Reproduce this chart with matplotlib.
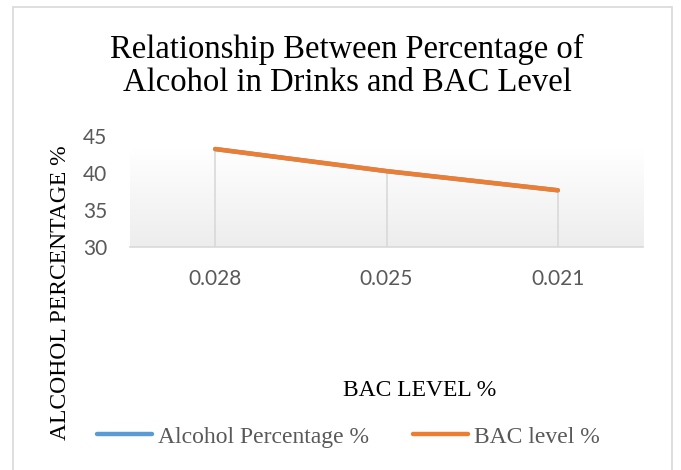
import matplotlib
matplotlib.use("Agg")
import matplotlib.pyplot as plt
import numpy as np
from matplotlib.patches import Rectangle
from matplotlib.lines import Line2D

categories = ["0.028", "0.025", "0.021"]
alcohol_pct = [43.3, 40.3, 37.7]
bac_level = [43.3, 40.3, 37.7]
yticks = [30, 35, 40, 45]
title = "Relationship Between Percentage of\nAlcohol in Drinks and BAC Level"
xlabel = "BAC LEVEL %"
ylabel = "ALCOHOL PERCENTAGE %"
series_names = ["Alcohol Percentage %", "BAC level %"]

W, H = 681, 470
fig = plt.figure(figsize=(W / 100, H / 100), dpi=100)
fig.patch.set_facecolor("white")

# outer border
fig.patches.append(Rectangle((13 / W, -0.05), (672 - 13) / W, 1 - 7 / H + 0.05,
                             transform=fig.transFigure, fill=False,
                             edgecolor="#d9d9d9", linewidth=1.2, clip_on=False))

ax = fig.add_axes([129.5 / W, 1 - 247 / H, (643.5 - 129.5) / W, (247 - 136.5) / H])
x = np.arange(len(categories))
ax.set_xlim(-0.5, len(categories) - 0.5)
ax.set_ylim(30, 45)

# gradient background from axis to top of data
top = max(alcohol_pct)
grad = np.linspace(0, 1, 256).reshape(-1, 1)
cmap = matplotlib.colors.LinearSegmentedColormap.from_list("g", ["#ededed", "#ffffff"])
ax.imshow(grad, extent=[-0.5, len(categories) - 0.5, 30, top], origin="lower",
          cmap=cmap, aspect="auto", zorder=0)

# drop lines
ax.vlines(x, 30, bac_level, colors="#d9d9d9", linewidth=1.2, zorder=1)

ax.plot(x, alcohol_pct, color="#5B9BD5", linewidth=3.2, solid_capstyle="round", zorder=2)
ax.plot(x, bac_level, color="#ED7D31", linewidth=3.2, solid_capstyle="round", zorder=3)

for s in ["top", "right", "left"]:
    ax.spines[s].set_visible(False)
ax.spines["bottom"].set_color("#d9d9d9")
ax.spines["bottom"].set_linewidth(1.2)

ax.set_xticks(x)
ax.set_xticklabels(categories)
ax.set_yticks(yticks)
ax.tick_params(axis="both", length=0, labelcolor="#595959", labelsize=15)
ax.tick_params(axis="y", pad=16)
ax.tick_params(axis="x", pad=16)
for lab in ax.get_xticklabels() + ax.get_yticklabels():
    lab.set_fontfamily("Lato")

serif = "Liberation Serif"
fig.text(347 / W, 1 - 66 / H, title, ha="center", va="center", fontsize=23.5,
         family=serif, color="black", linespacing=1.08)
fig.text(420 / W, 1 - 390 / H, xlabel, ha="center", va="center", fontsize=17,
         family=serif, color="black")
fig.text(61 / W, 1 - 293 / H, ylabel, ha="center", va="center", fontsize=17,
         family=serif, color="black", rotation=90)

handles = [Line2D([], [], color="#5B9BD5", linewidth=3.2, solid_capstyle="round"),
           Line2D([], [], color="#ED7D31", linewidth=3.2, solid_capstyle="round")]
leg = fig.legend(handles, series_names, loc="center", bbox_to_anchor=(348 / W, 1 - 437 / H),
                 ncol=2, frameon=False, handlelength=2.33, handletextpad=0.25,
                 columnspacing=1.87, borderpad=0, borderaxespad=0,
                 prop={"family": serif, "size": 17})
for t in leg.get_texts():
    t.set_color("#595959")

fig.savefig("out.png", dpi=100)
